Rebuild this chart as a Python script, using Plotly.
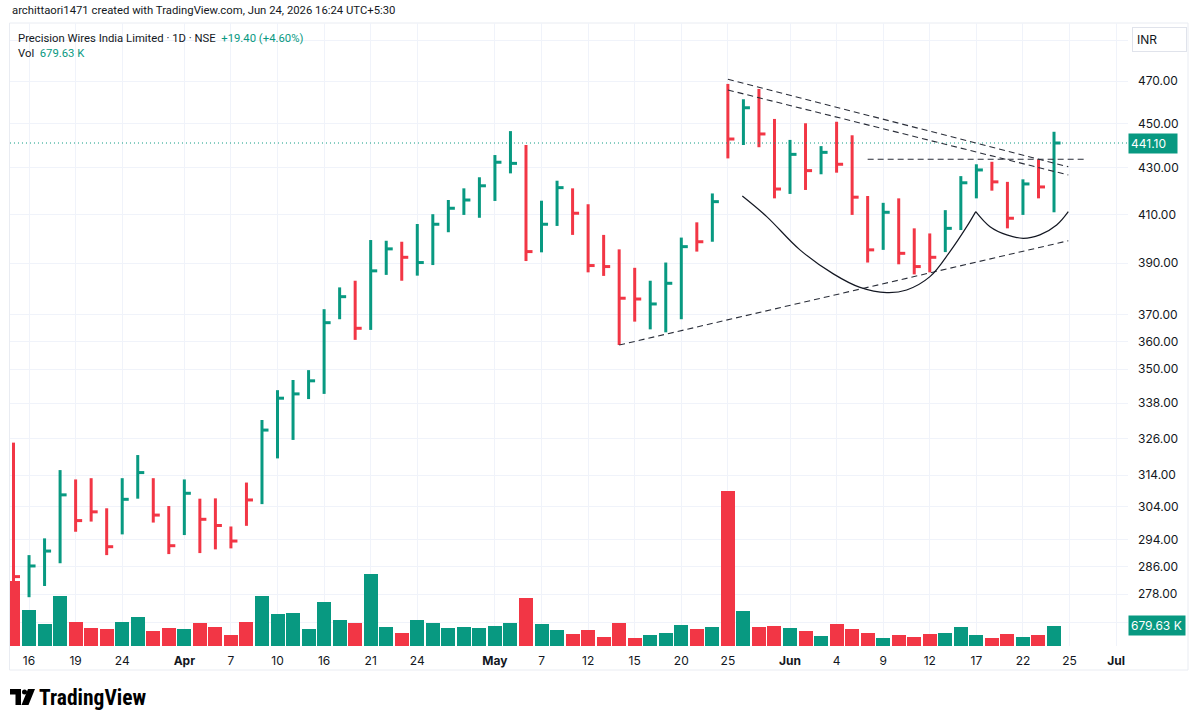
import numpy as np
import plotly.graph_objects as go

# ---------------- data ----------------
dates = [
    "2026-03-13", "2026-03-16", "2026-03-17", "2026-03-18", "2026-03-19", "2026-03-20",
    "2026-03-23", "2026-03-24", "2026-03-25", "2026-03-27", "2026-03-30",
    "2026-04-01", "2026-04-02", "2026-04-06", "2026-04-07", "2026-04-08", "2026-04-09",
    "2026-04-10", "2026-04-13", "2026-04-15", "2026-04-16", "2026-04-17", "2026-04-20",
    "2026-04-21", "2026-04-22", "2026-04-23", "2026-04-24", "2026-04-27", "2026-04-28",
    "2026-04-29", "2026-04-30",
    "2026-05-04", "2026-05-05", "2026-05-06", "2026-05-07", "2026-05-08", "2026-05-11",
    "2026-05-12", "2026-05-13", "2026-05-14", "2026-05-15", "2026-05-18", "2026-05-19",
    "2026-05-20", "2026-05-21", "2026-05-22", "2026-05-25", "2026-05-26", "2026-05-27",
    "2026-05-29",
    "2026-06-01", "2026-06-02", "2026-06-03", "2026-06-04", "2026-06-05", "2026-06-08",
    "2026-06-09", "2026-06-10", "2026-06-11", "2026-06-12", "2026-06-15", "2026-06-16",
    "2026-06-17", "2026-06-18", "2026-06-19", "2026-06-22", "2026-06-23", "2026-06-24",
]
future_dates = ["2026-06-25", "2026-06-29", "2026-06-30", "2026-07-01"]

high = [324.6, 289.3, 294.3, 315.6, 312.6, 313.0, 303.5, 313.0, 320.5, 313.0, 304.2,
        312.6, 306.5, 306.6, 297.9, 311.6, 332.2, 342.5, 346.1, 349.6, 372.1, 380.5, 383.1,
        399.4, 399.1, 398.7, 406.0, 410.1, 416.1, 421.1, 425.9,
        435.7, 446.5, 440.2, 415.8, 424.4, 421.1, 414.3, 401.5, 395.6, 388.2, 383.1, 390.3,
        400.4, 406.7, 418.9, 468.6, 461.3, 466.2, 452.1,
        442.5, 450.1, 439.7, 450.8, 444.6, 417.8, 414.9, 416.8, 404.2, 402.1, 411.8, 426.4,
        431.6, 432.7, 423.9, 425.0, 433.8, 446.2]
low = [281.2, 277.1, 280.3, 286.9, 296.3, 299.4, 289.3, 295.5, 306.5, 299.1, 289.6,
       295.3, 289.9, 291.0, 291.3, 298.1, 304.8, 319.4, 325.5, 339.4, 341.2, 368.3, 360.6,
       364.3, 385.4, 383.1, 385.1, 389.3, 402.6, 409.8, 408.6,
       415.7, 427.6, 390.9, 394.4, 405.2, 401.5, 386.4, 385.0, 358.7, 367.4, 364.5, 363.4,
       368.3, 394.7, 398.7, 434.2, 440.2, 439.2, 416.8,
       418.7, 420.4, 427.2, 427.9, 409.8, 390.3, 395.4, 389.6, 385.6, 386.4, 394.5, 403.5,
       416.8, 420.1, 404.2, 409.8, 416.8, 410.9]
close = [283.0, 286.1, 290.5, 307.7, 299.7, 302.4, 291.8, 306.3, 314.8, 301.4, 292.1,
         308.2, 300.1, 298.2, 293.5, 306.1, 328.8, 339.7, 341.2, 345.8, 367.0, 376.9, 364.9,
         387.0, 395.8, 392.4, 390.3, 405.9, 412.6, 416.1, 422.2,
         432.5, 432.0, 394.7, 405.9, 421.4, 410.5, 389.1, 388.7, 376.3, 376.0, 374.1, 382.1,
         396.7, 398.7, 415.4, 442.9, 457.3, 445.2, 420.8,
         436.0, 428.8, 436.9, 431.6, 417.3, 395.4, 410.9, 394.0, 388.7, 392.4, 404.2, 423.5,
         429.1, 423.9, 408.4, 423.0, 421.7, 441.1]
# U = up bar (green), D = down bar (red)
direction = ("DUUUDDDUUD" "DUDDDDUUUU" "UUDUUDUUUU" "UUUDUUDDDD"
             "DUUUDUDUDD" "UDUDDDUDDD" "UUUDDUDU")
volume_k = [2165, 1189, 733, 1665, 809, 609, 576, 809, 976, 509, 599,
            556, 776, 643, 366, 809, 1675, 1056, 1109, 556, 1455, 866, 776,
            2388, 623, 443, 856, 756, 599, 643, 599,
            666, 756, 1588, 733, 523, 400, 533, 300, 766, 276, 366, 443,
            689, 576, 643, 5171, 1166, 643, 656,
            609, 500, 333, 733, 576, 443, 266, 356, 290, 400, 443, 643,
            356, 256, 390, 310, 356, 679.63]

x_tick_dates = ["2026-03-16", "2026-03-19", "2026-03-24", "2026-04-01", "2026-04-07",
                "2026-04-10", "2026-04-16", "2026-04-21", "2026-04-24", "2026-05-04",
                "2026-05-07", "2026-05-12", "2026-05-15", "2026-05-20", "2026-05-25",
                "2026-06-01", "2026-06-04", "2026-06-09", "2026-06-12", "2026-06-17",
                "2026-06-22", "2026-06-25", "2026-07-01"]
x_tick_labels = ["16", "19", "24", "<b>Apr</b>", "7", "10", "16", "21", "24", "<b>May</b>",
                 "7", "12", "15", "20", "25", "<b>Jun</b>", "4", "9", "12", "17", "22", "25",
                 "<b>Jul</b>"]
price_ticks = [270, 278, 286, 294, 304, 314, 326, 338, 350, 360, 370, 390, 410, 430, 450, 470, 490]
price_tick_hidden = [270, 490]

# trend drawings (date or bar position, price)
upper_line_1 = [("2026-05-25", 470.8), (67.92, 430.5)]
upper_line_2 = [("2026-05-25", 465.7), (67.92, 426.9)]
resistance = [("2026-06-08", 433.8), (69.0, 433.8)]
support = [("2026-05-14", 358.7), (67.92, 399.1)]
cup_idx = [46.93, 48.50, 50.64, 52.79, 54.51, 56.23, 57.51, 59.01, 60.30, 61.38, 61.96]
cup_price = [417.8, 409.1, 395.4, 385.8, 380.5, 378.5, 379.5, 384.7, 394.7, 404.9, 411.2]
handle_idx = [61.96, 62.88, 63.96, 65.02, 66.09, 67.17, 67.92]
handle_price = [411.2, 404.9, 401.5, 400.1, 401.5, 405.6, 411.2]

last_change = "+19.40 (+4.60%)"

assert len(dates) == len(high) == len(low) == len(close) == len(direction) == len(volume_k)

# ---------------- styling ----------------
GREEN = "#089981"
RED = "#f23645"
TXT = "#131722"
GRID = "#f0f3fa"
FONT = "Inter, Roboto, Arial, sans-serif"
HFONT = "Roboto, Inter, Arial, sans-serif"
HSIZE = 11.3

W, H = 1199, 724
PL, PR, PT, PB = 10, 1128, 23, 646   # plot area in pixels

calendar = dates + future_dates
pos = {d: i for i, d in enumerate(calendar)}
xs = [pos[d] for d in dates]


def px_to_paper(px, py):
    return (px - PL) / (PR - PL), (PB - py) / (PB - PT)


def xval(v):
    return pos[v] if isinstance(v, str) else v


fig = go.Figure()

# volume (primary axis, hidden)
vol_colors = [GREEN if d == "U" else RED for d in direction]
fig.add_trace(go.Bar(x=xs, y=[v * 1000 for v in volume_k], marker_color=vol_colors,
                     marker_line_width=0, width=0.9, yaxis="y", hoverinfo="skip"))

# HLC bars
tick_len = 0.42
for dcode, col in (("U", GREEN), ("D", RED)):
    bx, by = [], []
    for i, d in enumerate(direction):
        if d != dcode:
            continue
        x = xs[i]
        bx += [x, x, None, x, x + tick_len, None]
        by += [low[i], high[i], None, close[i], close[i], None]
    fig.add_trace(go.Scatter(x=bx, y=by, mode="lines", yaxis="y2",
                             line=dict(color=col, width=3), hoverinfo="skip"))

# last price dotted line
fig.add_trace(go.Scatter(x=[-1, len(calendar) + 5], y=[close[-1], close[-1]], mode="lines",
                         yaxis="y2", line=dict(color=GREEN, width=1, dash="1px,3px"),
                         hoverinfo="skip"))

# dashed trend lines
for seg in (upper_line_1, upper_line_2, resistance, support):
    fig.add_trace(go.Scatter(x=[xval(p[0]) for p in seg], y=[p[1] for p in seg],
                             mode="lines", yaxis="y2",
                             line=dict(color="#2a2e39", width=1.1, dash="6px,4px"),
                             hoverinfo="skip"))
# cup and handle curves
for cx, cy in ((cup_idx, cup_price), (handle_idx, handle_price)):
    fig.add_trace(go.Scatter(x=cx, y=cy, mode="lines", yaxis="y2",
                             line=dict(color="#131722", width=1.2, shape="spline", smoothing=1.0),
                             hoverinfo="skip"))

x_lo = (PL - 13.5) / 15.53
x_hi = (PR - 13.5) / 15.53
log_top = np.log10(470) + (81 - PT) / 977 / np.log(10)
log_bot = np.log10(470) - (PB - 81) / 977 / np.log(10)
vol_top = 679630 / 20.4 * (PB - PT)

fig.update_layout(
    width=W, height=H, autosize=False,
    margin=dict(l=PL, r=W - PR, t=PT, b=H - PB),
    paper_bgcolor="white", plot_bgcolor="white",
    showlegend=False, bargap=0,
    font=dict(family=FONT, color=TXT, size=12),
    xaxis=dict(range=[x_lo, x_hi], tickvals=[pos[d] for d in x_tick_dates],
               ticktext=x_tick_labels, showgrid=True, gridcolor=GRID, gridwidth=1,
               zeroline=False, showline=False, ticks="", ticklabelstandoff=6,
               tickfont=dict(size=12, color=TXT, family=FONT), fixedrange=True),
    yaxis=dict(range=[0, vol_top], visible=False, showgrid=False, zeroline=False),
    yaxis2=dict(type="log", range=[log_bot, log_top], overlaying="y", side="right",
                tickvals=price_ticks,
                ticktext=["" if t in price_tick_hidden else f"{t:.2f}" for t in price_ticks],
                showgrid=True, gridcolor=GRID, gridwidth=1, zeroline=False, showline=False,
                ticks="", ticklabelstandoff=9,
                tickfont=dict(size=12, color=TXT, family=FONT)),
)

ann = []
# header
x, y = px_to_paper(10, 10)
ann.append(dict(x=x, y=y, xref="paper", yref="paper", xanchor="left", yanchor="middle",
                text="archittaori1471 created with TradingView.com, Jun 24, 2026 16:24 UTC+5:30",
                showarrow=False, font=dict(size=HSIZE, color=TXT, family=HFONT)))
x, y = px_to_paper(16, 38)
ann.append(dict(x=x, y=y, xref="paper", yref="paper", xanchor="left", yanchor="middle",
                text=f"Precision Wires India Limited · 1D · NSE  <span style='color:{GREEN}'>{last_change}</span>",
                showarrow=False, font=dict(size=HSIZE, color=TXT, family=HFONT)))
x, y = px_to_paper(16, 54)
ann.append(dict(x=x, y=y, xref="paper", yref="paper", xanchor="left", yanchor="middle",
                text=f"Vol  <span style='color:{GREEN}'>{volume_k[-1]:.2f} K</span>",
                showarrow=False, font=dict(size=HSIZE, color=TXT, family=HFONT)))
# currency box
x, y = px_to_paper(1132, 39)
ann.append(dict(x=x, y=y, xref="paper", yref="paper", xanchor="left", yanchor="middle",
                text="INR", showarrow=False, font=dict(size=12, color=TXT),
                bordercolor="#e0e3eb", borderwidth=1, borderpad=4, width=45, align="left",
                bgcolor="white"))
# last price label
ann.append(dict(x=1.0, y=np.log10(close[-1]), xref="paper", yref="y2", xanchor="left",
                yanchor="middle", text=f"{close[-1]:.2f}", showarrow=False,
                font=dict(size=12, color="white"), bgcolor=GREEN, borderpad=2, width=44,
                align="left"))
# last volume label
ann.append(dict(x=1.0, y=volume_k[-1] * 1000, xref="paper", yref="y", xanchor="left",
                yanchor="middle", text=f"{volume_k[-1]:.2f} K", showarrow=False,
                font=dict(size=12, color="white"), bgcolor=GREEN, borderpad=2, width=52,
                align="left"))
# logo text
x, y = px_to_paper(37, 697)
ann.append(dict(x=x, y=y, xref="paper", yref="paper", xanchor="left", yanchor="middle",
                text="<b>TradingView</b>", showarrow=False,
                font=dict(size=21.5, color="#000000", family="Roboto Condensed, Roboto, Inter, sans-serif")))
fig.update_layout(annotations=ann)

# frame and logo shapes
shapes = []
x0, y0 = px_to_paper(9.5, 670)
x1, y1 = px_to_paper(1188, 23)
shapes.append(dict(type="rect", xref="paper", yref="paper", x0=x0, y0=y0, x1=x1, y1=y1,
                   line=dict(color="#e9ecf2", width=1), layer="below"))


def path(points):
    s = ""
    for k, (px, py) in enumerate(points):
        a, b = px_to_paper(px, py)
        s += ("M" if k == 0 else "L") + f"{a:.5f},{b:.5f} "
    return s + "Z"


shapes.append(dict(type="path", xref="paper", yref="paper",
                   path=path([(10, 689), (21, 689), (21, 705), (15.5, 705), (15.5, 694.5), (10, 694.5)]),
                   fillcolor="#000000", line=dict(width=0)))
shapes.append(dict(type="path", xref="paper", yref="paper",
                   path=path([(28, 689), (35, 689), (28.5, 705), (21.5, 705)]),
                   fillcolor="#000000", line=dict(width=0)))
cx0, cy0 = px_to_paper(22, 689.5)
cx1, cy1 = px_to_paper(27, 694.5)
shapes.append(dict(type="circle", xref="paper", yref="paper", x0=cx0, y0=cy0, x1=cx1, y1=cy1,
                   fillcolor="#000000", line=dict(width=0)))
fig.update_layout(shapes=shapes)

fig.write_html("out.html")
